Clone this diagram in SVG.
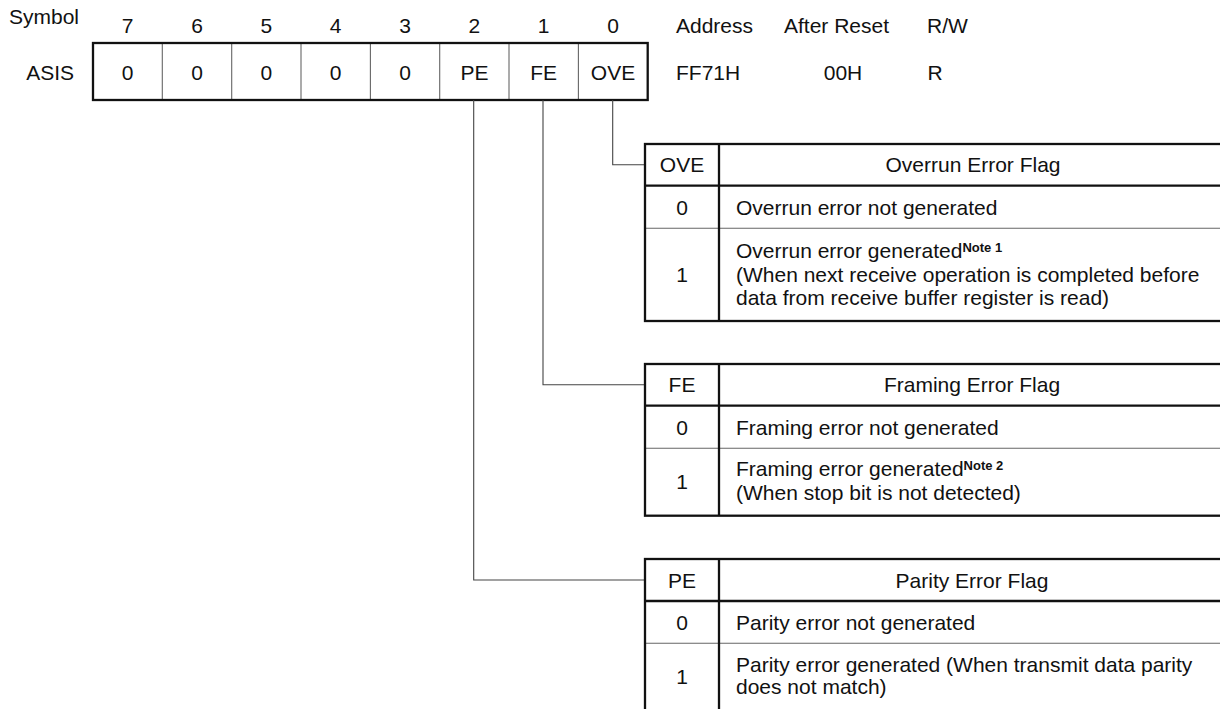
<svg xmlns="http://www.w3.org/2000/svg" width="1220" height="709" viewBox="0 0 1220 709">
<style>
text{font-family:"Liberation Sans",Arial,Helvetica,sans-serif;font-size:21px;fill:#111}
.c{text-anchor:middle}
.e{text-anchor:end}
.thick{fill:none;stroke:#111;stroke-width:2.3}
.thin{stroke:#666;stroke-width:1.1;fill:none}
.conn{stroke:#444;stroke-width:1.1;fill:none}
.note{font-size:13px;font-weight:bold}
</style>
<rect width="1220" height="709" fill="#fff"/>

<g id="header-labels">
<text x="9" y="24">Symbol</text>
<text class="c" x="127.7" y="32.5">7</text>
<text class="c" x="197" y="32.5">6</text>
<text class="c" x="266.4" y="32.5">5</text>
<text class="c" x="335.7" y="32.5">4</text>
<text class="c" x="405" y="32.5">3</text>
<text class="c" x="474.4" y="32.5">2</text>
<text class="c" x="543.7" y="32.5">1</text>
<text class="c" x="613" y="32.5">0</text>
<text x="676" y="32.5">Address</text>
<text x="784" y="32.5">After Reset</text>
<text x="927" y="32.5">R/W</text>
</g>

<g id="register">
<text class="e" x="74" y="79.5">ASIS</text>
<line class="thin" x1="162.3" y1="43" x2="162.3" y2="100"/>
<line class="thin" x1="231.7" y1="43" x2="231.7" y2="100"/>
<line class="thin" x1="301" y1="43" x2="301" y2="100"/>
<line class="thin" x1="370.4" y1="43" x2="370.4" y2="100"/>
<line class="thin" x1="439.7" y1="43" x2="439.7" y2="100"/>
<line class="thin" x1="509" y1="43" x2="509" y2="100"/>
<line class="thin" x1="578.4" y1="43" x2="578.4" y2="100"/>
<rect class="thick" x="93" y="43" width="554.7" height="57"/>
<text class="c" x="127.7" y="79.5">0</text>
<text class="c" x="197" y="79.5">0</text>
<text class="c" x="266.4" y="79.5">0</text>
<text class="c" x="335.7" y="79.5">0</text>
<text class="c" x="405" y="79.5">0</text>
<text class="c" x="474.4" y="79.5">PE</text>
<text class="c" x="543.7" y="79.5">FE</text>
<text class="c" x="613" y="79.5">OVE</text>
</g>

<g id="register-info">
<text x="676" y="79.5">FF71H</text>
<text class="c" x="843" y="79.5">00H</text>
<text class="c" x="935" y="79.5">R</text>
</g>

<g id="connectors">
<polyline class="conn" points="612.7,100 612.7,164.8 645,164.8"/>
<polyline class="conn" points="543,100 543,384.8 645,384.8"/>
<polyline class="conn" points="473.7,100 473.7,580 645,580"/>
</g>

<g id="table-ove">
<line class="thin" x1="645" y1="228.3" x2="1228" y2="228.3"/>
<line class="thick" x1="645" y1="185.7" x2="1228" y2="185.7"/>
<line class="thick" x1="719" y1="144" x2="719" y2="321"/>
<rect class="thick" x="645" y="144" width="583" height="177"/>
<text class="c" x="682" y="172.3">OVE</text>
<text class="c" x="973" y="172.3">Overrun Error Flag</text>
<text class="c" x="682" y="214.5">0</text>
<text x="736" y="214.5">Overrun error not generated</text>
<text class="c" x="682" y="282">1</text>
<text x="736" y="258">Overrun error generated<tspan class="note" dy="-6">Note 1</tspan></text>
<text x="736" y="281.5">(When next receive operation is completed before</text>
<text x="736" y="305">data from receive buffer register is read)</text>
</g>

<g id="table-fe">
<line class="thin" x1="645" y1="448.3" x2="1228" y2="448.3"/>
<line class="thick" x1="645" y1="405.7" x2="1228" y2="405.7"/>
<line class="thick" x1="719" y1="364" x2="719" y2="515.7"/>
<rect class="thick" x="645" y="364" width="583" height="151.7"/>
<text class="c" x="682" y="392.3">FE</text>
<text class="c" x="972" y="392.3">Framing Error Flag</text>
<text class="c" x="682" y="434.5">0</text>
<text x="736" y="434.5">Framing error not generated</text>
<text class="c" x="682" y="489">1</text>
<text x="736" y="476">Framing error generated<tspan class="note" dy="-6">Note 2</tspan></text>
<text x="736" y="500">(When stop bit is not detected)</text>
</g>

<g id="table-pe">
<line class="thin" x1="645" y1="643.3" x2="1228" y2="643.3"/>
<line class="thick" x1="645" y1="601" x2="1228" y2="601"/>
<line class="thick" x1="719" y1="559" x2="719" y2="712"/>
<rect class="thick" x="645" y="559" width="583" height="153"/>
<text class="c" x="682" y="587.5">PE</text>
<text class="c" x="972" y="587.5">Parity Error Flag</text>
<text class="c" x="682" y="629.8">0</text>
<text x="736" y="629.8">Parity error not generated</text>
<text class="c" x="682" y="684">1</text>
<text x="736" y="671.7">Parity error generated (When transmit data parity</text>
<text x="736" y="694">does not match)</text>
</g>
</svg>
